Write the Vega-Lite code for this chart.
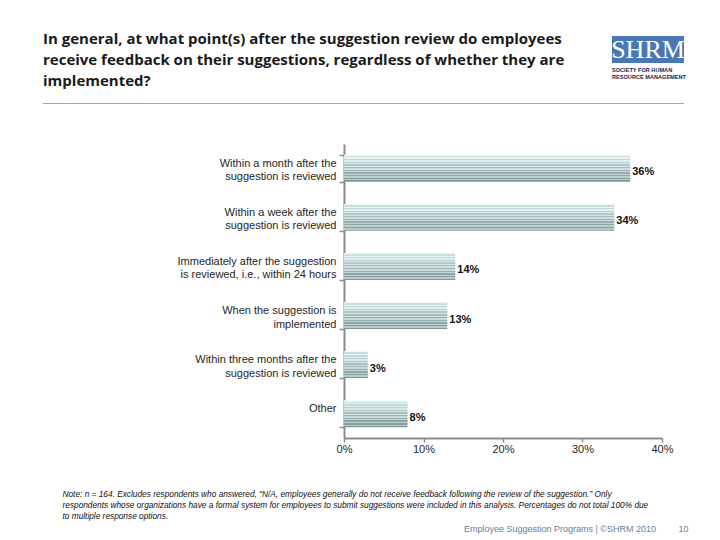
{
  "$schema": "https://vega.github.io/schema/vega-lite/v6.json",
  "background": "white",
  "padding": {"left": 43, "top": 32, "right": 20, "bottom": 8},
  "bounds": "flush",
  "spacing": 67,
  "config": {
    "view": {"stroke": null},
    "font": "Liberation Sans"
  },
  "vconcat": [
    {
      "bounds": "flush",
      "spacing": 9,
      "hconcat": [
        {
          "width": 560,
          "height": 27,
          "data": {"values": []},
          "mark": "text",
          "encoding": {},
          "title": {
            "text": [
              "In general, at what point(s) after the suggestion review do employees",
              "receive feedback on their suggestions, regardless of whether they are",
              "implemented?"
            ],
            "orient": "bottom",
            "anchor": "start",
            "frame": "group",
            "baseline": "top",
            "offset": -31,
            "font": "Open Sans",
            "fontSize": 15,
            "fontWeight": "bold",
            "color": "#1a1a1a",
            "lineHeight": 21
          }
        },
        {
          "width": 72,
          "height": 27,
          "view": {"fill": "#4a78b4", "stroke": null},
          "data": {"values": [{"brand": "SHRM"}]},
          "mark": {"type": "text", "color": "white", "font": "Liberation Serif", "fontSize": 26},
          "encoding": {"text": {"field": "brand"}},
          "title": {
            "text": ["SOCIETY FOR HUMAN", "RESOURCE MANAGEMENT"],
            "orient": "bottom",
            "anchor": "start",
            "frame": "group",
            "offset": 5,
            "font": "Liberation Sans",
            "fontSize": 5.6,
            "fontWeight": "bold",
            "color": "#16264d",
            "lineHeight": 7.3
          }
        }
      ]
    },
    {
      "bounds": "flush",
      "spacing": 40,
      "vconcat": [
        {
          "width": 641,
          "height": 1,
          "view": {"fill": "#a6a6a6", "stroke": null},
          "data": {"values": []},
          "mark": "text",
          "encoding": {}
        },
        {
          "bounds": "flush",
          "spacing": 0,
          "hconcat": [
            {
              "width": 301,
              "height": 294,
              "data": {"values": []},
              "mark": "text",
              "encoding": {}
            },
            {
              "width": 318,
              "height": 294,
              "data": {
                "values": [
                  {"answer": "Within a month after the|suggestion is reviewed", "share": 0.36},
                  {"answer": "Within a week after the|suggestion is reviewed", "share": 0.34},
                  {"answer": "Immediately after the suggestion|is reviewed, i.e., within 24 hours", "share": 0.14},
                  {"answer": "When the suggestion is|implemented", "share": 0.13},
                  {"answer": "Within three months after the|suggestion is reviewed", "share": 0.03},
                  {"answer": "Other", "share": 0.08}
                ]
              },
              "encoding": {
                "y": {
                  "field": "answer",
                  "type": "nominal",
                  "sort": null,
                  "scale": {"paddingInner": 0.45, "paddingOuter": 0.22},
                  "axis": {
                    "labelExpr": "split(datum.label, '|')",
                    "labelFont": "Liberation Sans",
                    "labelFontSize": 11,
                    "labelLineHeight": 13.5,
                    "labelColor": "#262626",
                    "labelPadding": 3,
                    "labelOffset": -5,
                    "labelLimit": 300,
                    "tickBand": "extent",
                    "tickSize": 5,
                    "tickWidth": 1.5,
                    "tickColor": "#8c8c8c",
                    "domainColor": "#8c8c8c",
                    "domainWidth": 2,
                    "title": "Employee Suggestion Programs | ©SHRM 2010\u00a0\u00a0\u00a0\u00a0\u00a0\u00a0\u00a0\u00a0\u00a010",
                    "titleAngle": 0,
                    "titleX": 344,
                    "titleY": 384,
                    "titleAlign": "right",
                    "titleBaseline": "middle",
                    "titleFont": "Liberation Sans",
                    "titleFontSize": 9,
                    "titleFontWeight": "normal",
                    "titleColor": "#5f7fa3"
                  }
                },
                "x": {
                  "field": "share",
                  "type": "quantitative",
                  "scale": {"domain": [0, 0.4]},
                  "axis": {
                    "values": [0, 0.1, 0.2, 0.3, 0.4],
                    "format": ".0%",
                    "grid": false,
                    "labelFlush": false,
                    "labelFont": "Liberation Sans",
                    "labelFontSize": 11,
                    "labelColor": "#262626",
                    "labelPadding": 1,
                    "tickSize": 4,
                    "tickWidth": 1.5,
                    "tickColor": "#8c8c8c",
                    "domainColor": "#8c8c8c",
                    "domainWidth": 2,
                    "title": [
                      "Note: n = 164. Excludes respondents who answered, “N/A, employees generally do not receive feedback following the review of the suggestion.” Only",
                      "respondents whose organizations have a formal system for employees to submit suggestions were included in this analysis.  Percentages do not total 100% due",
                      "to multiple response options."
                    ],
                    "titleFont": "Liberation Sans",
                    "titleFontSize": 8.3,
                    "titleFontStyle": "italic",
                    "titleFontWeight": "normal",
                    "titleColor": "#111111",
                    "titleAnchor": "start",
                    "titleAlign": "left",
                    "titleBaseline": "top",
                    "titleX": -282,
                    "titleY": 51,
                    "titleLineHeight": 11
                  }
                }
              },
              "layer": [
                {
                  "mark": {
                    "type": "bar",
                    "color": {
                      "gradient": "linear",
                      "x1": 0, "y1": 0, "x2": 0, "y2": 1,
                      "stops": [
                        {"offset": 0.0, "color": "#eef7f7"}, {"offset": 0.05, "color": "#eef7f7"},
                        {"offset": 0.05, "color": "#c9e0e0"}, {"offset": 0.1, "color": "#c9e0e0"},
                        {"offset": 0.1, "color": "#e9f3f3"}, {"offset": 0.15, "color": "#e9f3f3"},
                        {"offset": 0.15, "color": "#c0dada"}, {"offset": 0.2, "color": "#c0dada"},
                        {"offset": 0.2, "color": "#e3efef"}, {"offset": 0.25, "color": "#e3efef"},
                        {"offset": 0.25, "color": "#b7d2d2"}, {"offset": 0.3, "color": "#b7d2d2"},
                        {"offset": 0.3, "color": "#dde9e9"}, {"offset": 0.35, "color": "#dde9e9"},
                        {"offset": 0.35, "color": "#adc9c9"}, {"offset": 0.4, "color": "#adc9c9"},
                        {"offset": 0.4, "color": "#d7e4e4"}, {"offset": 0.45, "color": "#d7e4e4"},
                        {"offset": 0.45, "color": "#a4c0c0"}, {"offset": 0.5, "color": "#a4c0c0"},
                        {"offset": 0.5, "color": "#d0dfdf"}, {"offset": 0.55, "color": "#d0dfdf"},
                        {"offset": 0.55, "color": "#9bb7b7"}, {"offset": 0.6, "color": "#9bb7b7"},
                        {"offset": 0.6, "color": "#cadada"}, {"offset": 0.65, "color": "#cadada"},
                        {"offset": 0.65, "color": "#93afaf"}, {"offset": 0.7, "color": "#93afaf"},
                        {"offset": 0.7, "color": "#c4d4d4"}, {"offset": 0.75, "color": "#c4d4d4"},
                        {"offset": 0.75, "color": "#8ba7a7"}, {"offset": 0.8, "color": "#8ba7a7"},
                        {"offset": 0.8, "color": "#bfcfcf"}, {"offset": 0.85, "color": "#bfcfcf"},
                        {"offset": 0.85, "color": "#849f9f"}, {"offset": 0.9, "color": "#849f9f"},
                        {"offset": 0.9, "color": "#bacaca"}, {"offset": 0.95, "color": "#bacaca"},
                        {"offset": 0.95, "color": "#7d9898"}, {"offset": 1.0, "color": "#7d9898"}
                      ]
                    }
                  }
                },
                {
                  "mark": {
                    "type": "text",
                    "align": "left",
                    "baseline": "middle",
                    "dx": 2,
                    "dy": 4,
                    "font": "Liberation Sans",
                    "fontSize": 11,
                    "fontWeight": "bold",
                    "color": "#111111"
                  },
                  "encoding": {"text": {"field": "share", "format": ".0%"}}
                }
              ]
            }
          ]
        }
      ]
    }
  ]
}
